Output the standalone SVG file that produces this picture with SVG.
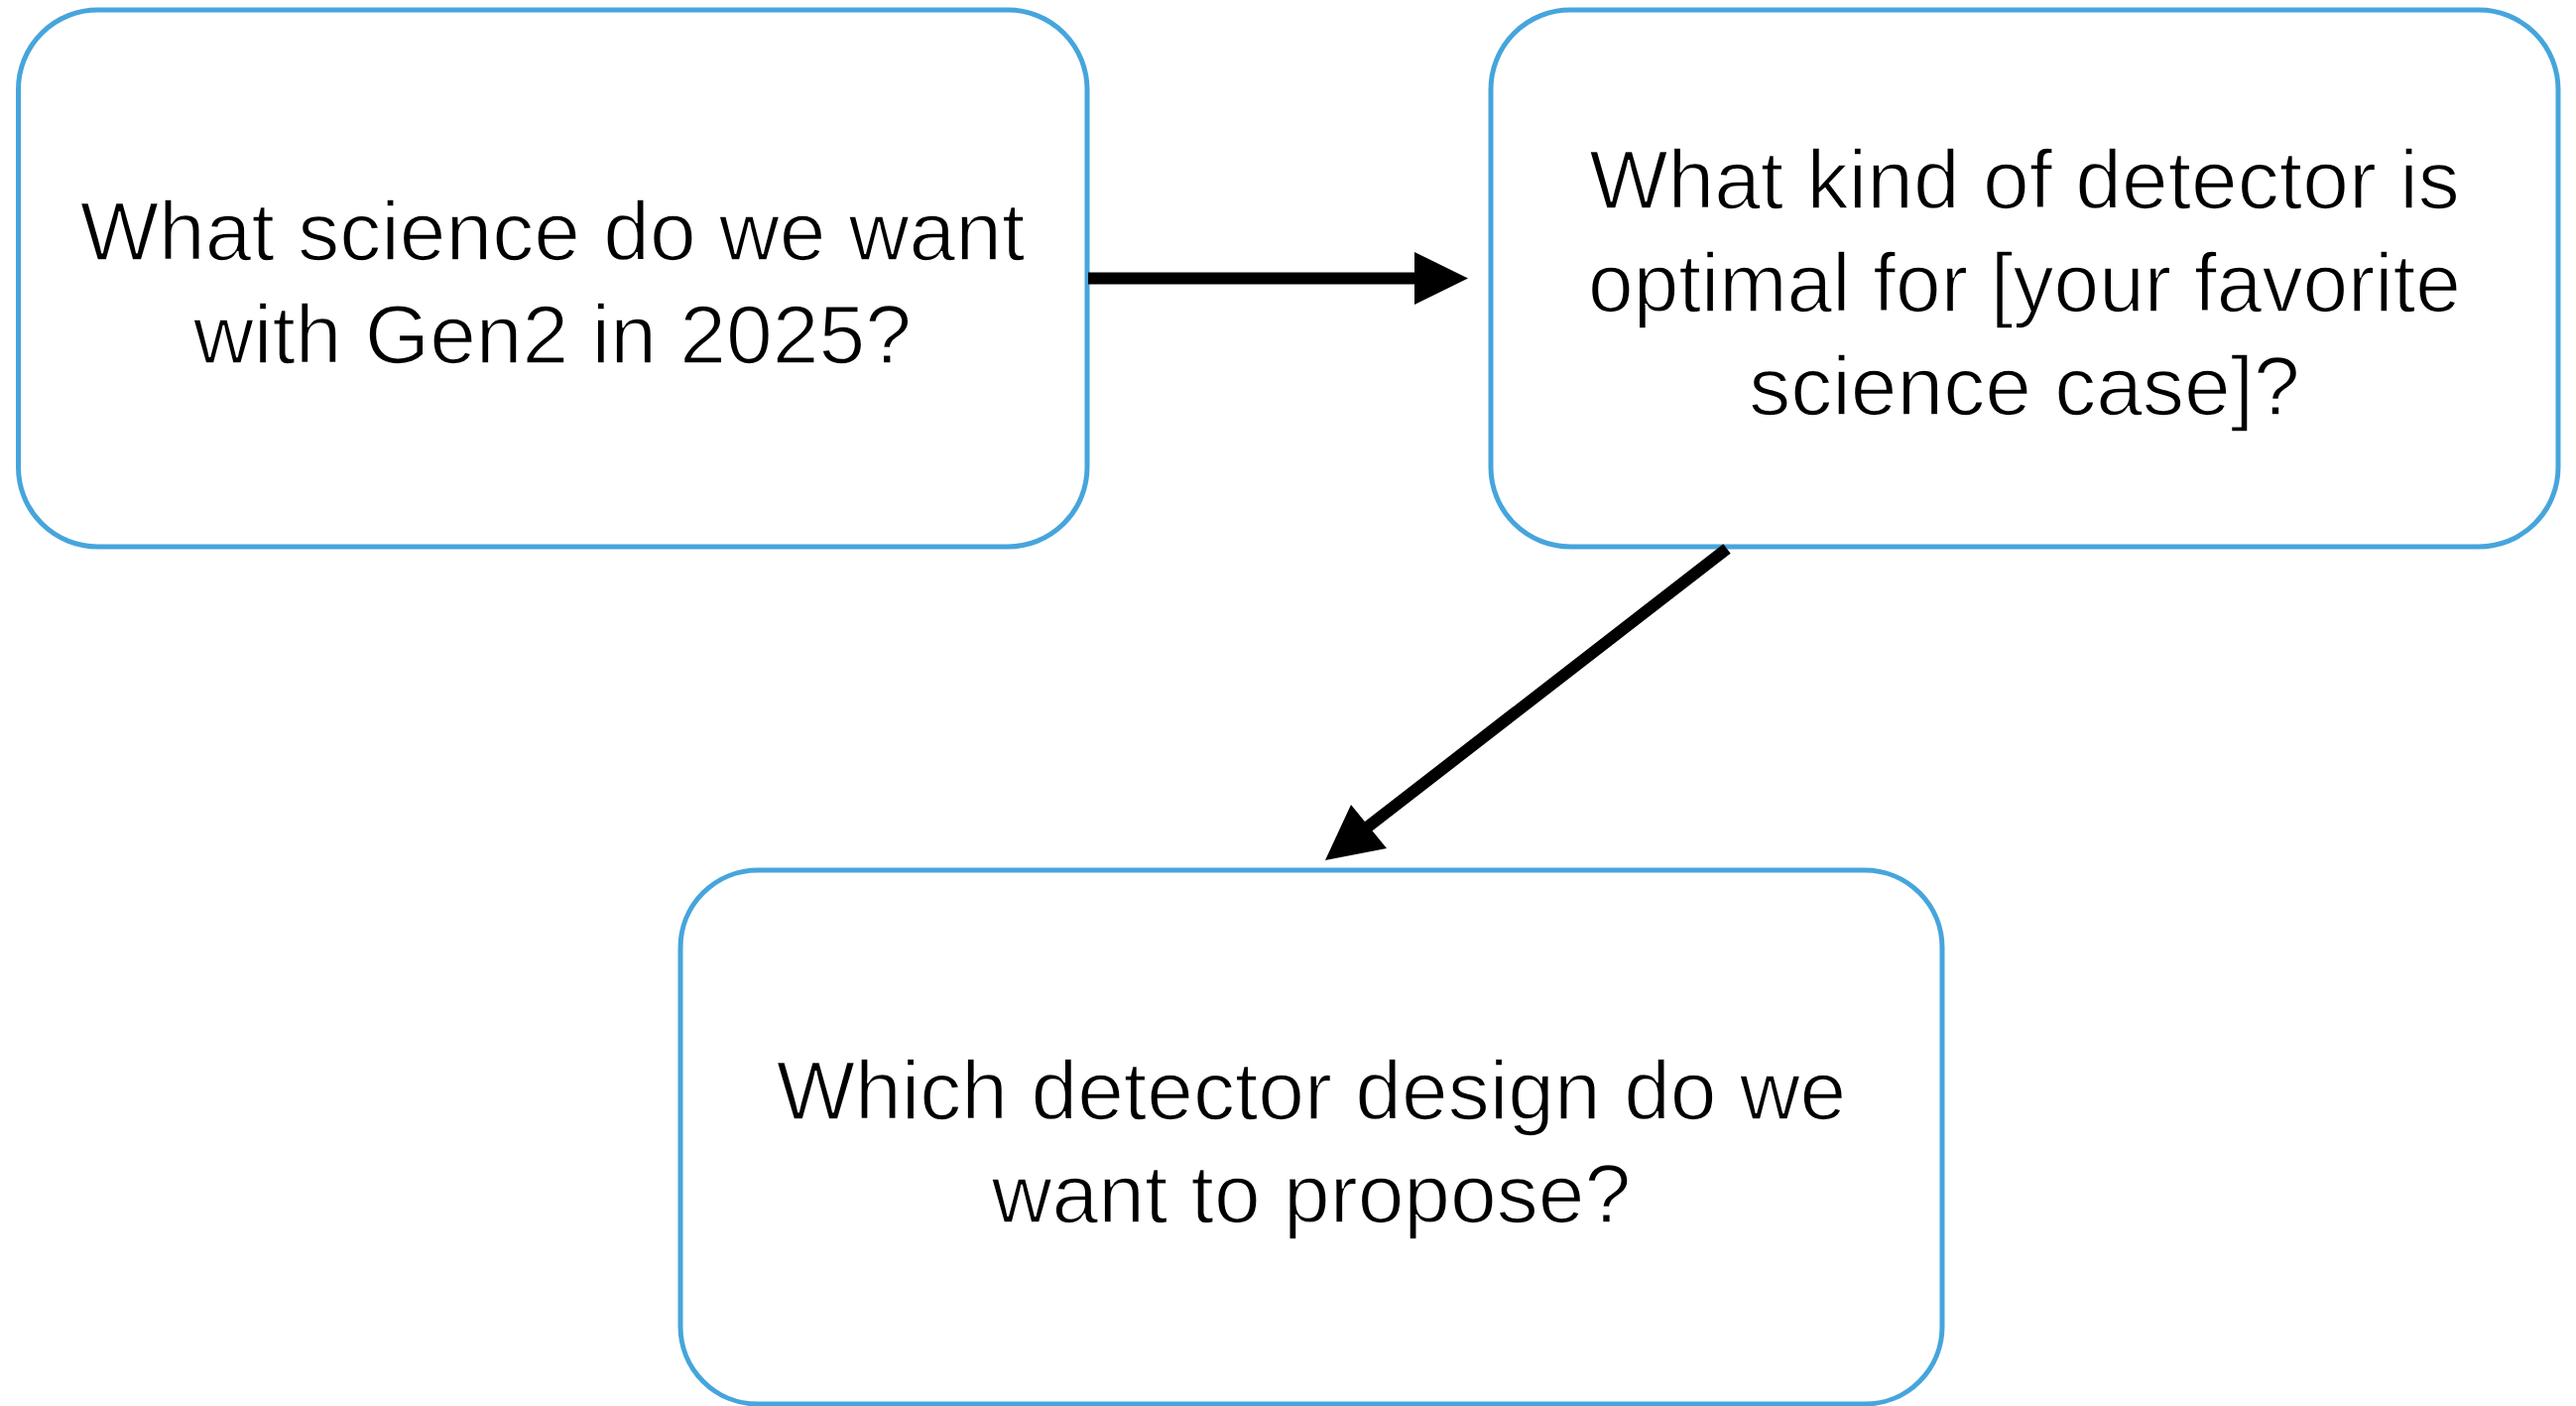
<svg xmlns="http://www.w3.org/2000/svg" width="2597" height="1417" viewBox="0 0 2597 1417">
<style>
.box{fill:#ffffff;stroke:#46a5dc;stroke-width:5}
.lbl{font-family:"Liberation Sans",Arial,Helvetica,sans-serif;font-size:84px;fill:#000;stroke:#ffffff;stroke-width:1.6;text-anchor:middle}
.conn{stroke:#000;stroke-width:12;fill:none}
.head{fill:#000}
</style>
<rect width="2597" height="1417" fill="#ffffff"/>
<g id="node-science">
<rect class="box" x="18.5" y="10" width="1077.5" height="541" rx="80" ry="80"/>
<text class="lbl" x="557" y="262">What science do we want</text>
<text class="lbl" x="557" y="366">with Gen2 in 2025?</text>
</g>
<g id="node-detector-kind">
<rect class="box" x="1503" y="10" width="1076" height="541" rx="80" ry="80"/>
<text class="lbl" x="2041" y="210">What kind of detector is</text>
<text class="lbl" x="2041" y="314" textLength="880" lengthAdjust="spacingAndGlyphs">optimal for [your favorite</text>
<text class="lbl" x="2041" y="418">science case]?</text>
</g>
<g id="node-design">
<rect class="box" x="686" y="877" width="1272" height="538" rx="78" ry="78"/>
<text class="lbl" x="1322" y="1128">Which detector design do we</text>
<text class="lbl" x="1322" y="1232">want to propose?</text>
</g>
<g id="connectors">
<line class="conn" x1="1097" y1="280.5" x2="1428" y2="280.5"/>
<polygon class="head" points="1426,254 1480,280.5 1426,307"/>
<line class="conn" x1="1741" y1="553" x2="1378" y2="834"/>
<polygon class="head" points="1362,811 1336,867 1398,855"/>
</g>
</svg>
